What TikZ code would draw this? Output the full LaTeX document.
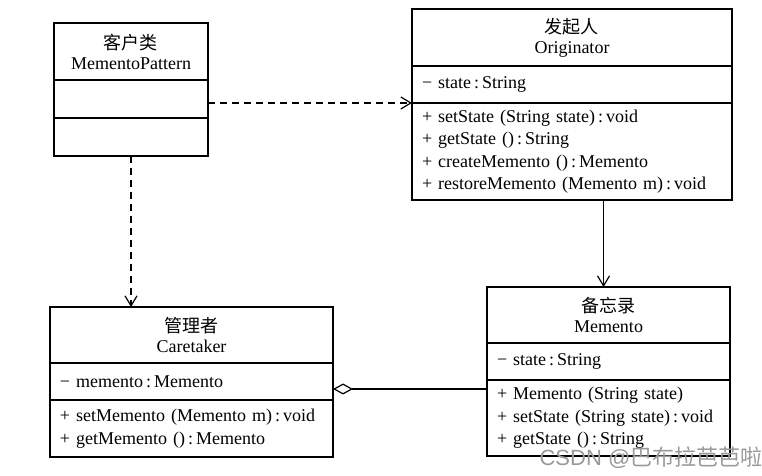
\documentclass[tikz,border=0pt]{standalone}
\usepackage{fontspec}
\setmainfont{Liberation Serif}
\newfontfamily\cjk{Noto Sans CJK SC}
\newfontfamily\wmfont{Liberation Sans}
\usetikzlibrary{arrows.meta}
\begin{document}
\begin{tikzpicture}
	[comp/.style ={draw, line width = 0.6pt, anchor = north west, outer sep = 0pt, inner xsep = 5pt, inner ysep = 0pt, text width = #1, align = left, font = \fontsize{9}{11.2}\selectfont},
	head/.style ={comp = #1, align = center, font = \fontsize{9}{10}\selectfont},
	dep/.style ={dashed, dash pattern = on 3.5pt off 2.5pt, line width = 0.6pt, -{Straight Barb[length = 5pt, width = 6pt]}},
	assoc/.style ={line width = 0.6pt, -{Straight Barb[length = 5pt, width = 6pt]}},
	aggr/.style ={line width = 0.6pt, {Diamond[open, length = 10pt, width = 5.5pt]}-}]
	\useasboundingbox (0,0) rectangle (381pt,-238pt);
	% client
	\node[head = 67pt, minimum height = 28.5pt] (clHead) at (27pt,-11.5pt) {{\cjk 客户类}\\MementoPattern};
	\node[comp = 67pt, minimum height = 19pt] (clAttr) at (clHead.south west) {};
	\node[comp = 67pt, minimum height = 19pt] (clOps) at (clAttr.south west) {};
	% originator
	\node[head = 150pt, minimum height = 28.5pt] (origHead) at (206pt,-4.5pt) {{\cjk 发起人}\\Originator};
	\node[comp = 150pt, minimum height = 18.5pt] (origAttr) at (origHead.south west) {− state\,:\,String};
	\node[comp = 150pt, minimum height = 48.5pt] (origOps) at (origAttr.south west) {+ setState (String state)\,:\,void\\+ getState ()\,:\,String\\+ createMemento ()\,:\,Memento\\+ restoreMemento (Memento m)\,:\,void};
	% caretaker
	\node[head = 131.5pt, minimum height = 28pt] (careHead) at (25pt,-153.5pt) {{\cjk 管理者}\\Caretaker};
	\node[comp = 131.5pt, minimum height = 18.5pt] (careAttr) at (careHead.south west) {− memento\,:\,Memento};
	\node[comp = 131.5pt, minimum height = 28.5pt] (careOps) at (careAttr.south west) {+ setMemento (Memento m)\,:\,void\\+ getMemento ()\,:\,Memento};
	% memento
	\node[head = 111.5pt, minimum height = 28pt] (memHead) at (243.5pt,-143.5pt) {{\cjk 备忘录}\\Memento};
	\node[comp = 111.5pt, minimum height = 18.5pt] (memAttr) at (memHead.south west) {− state\,:\,String};
	\node[comp = 111.5pt, minimum height = 38pt] (memOps) at (memAttr.south west) {+ Memento (String state)\\+ setState (String state)\,:\,void\\+ getState ()\,:\,String};
	% relations
	\draw[dep] (clAttr.east |- origOps.north west) -- (origOps.north west);
	\draw[dep] (clOps.south) -- (clOps.south |- careHead.north);
	\draw[assoc] ([xshift = -2.5pt]memHead.north |- origOps.south) -- ([xshift = -2.5pt]memHead.north);
	\draw[aggr] ([yshift = -3.75pt]careAttr.east) -- ([yshift = -3.75pt]careAttr.east -| memOps.west);
	\node[font = \fontsize{11}{11}\selectfont, text = black!40, inner sep = 0pt] (mark) at (325.5pt,-229pt) {\wmfont CSDN @\cjk 巴布拉芭芭啦};
\end{tikzpicture}
\end{document}
